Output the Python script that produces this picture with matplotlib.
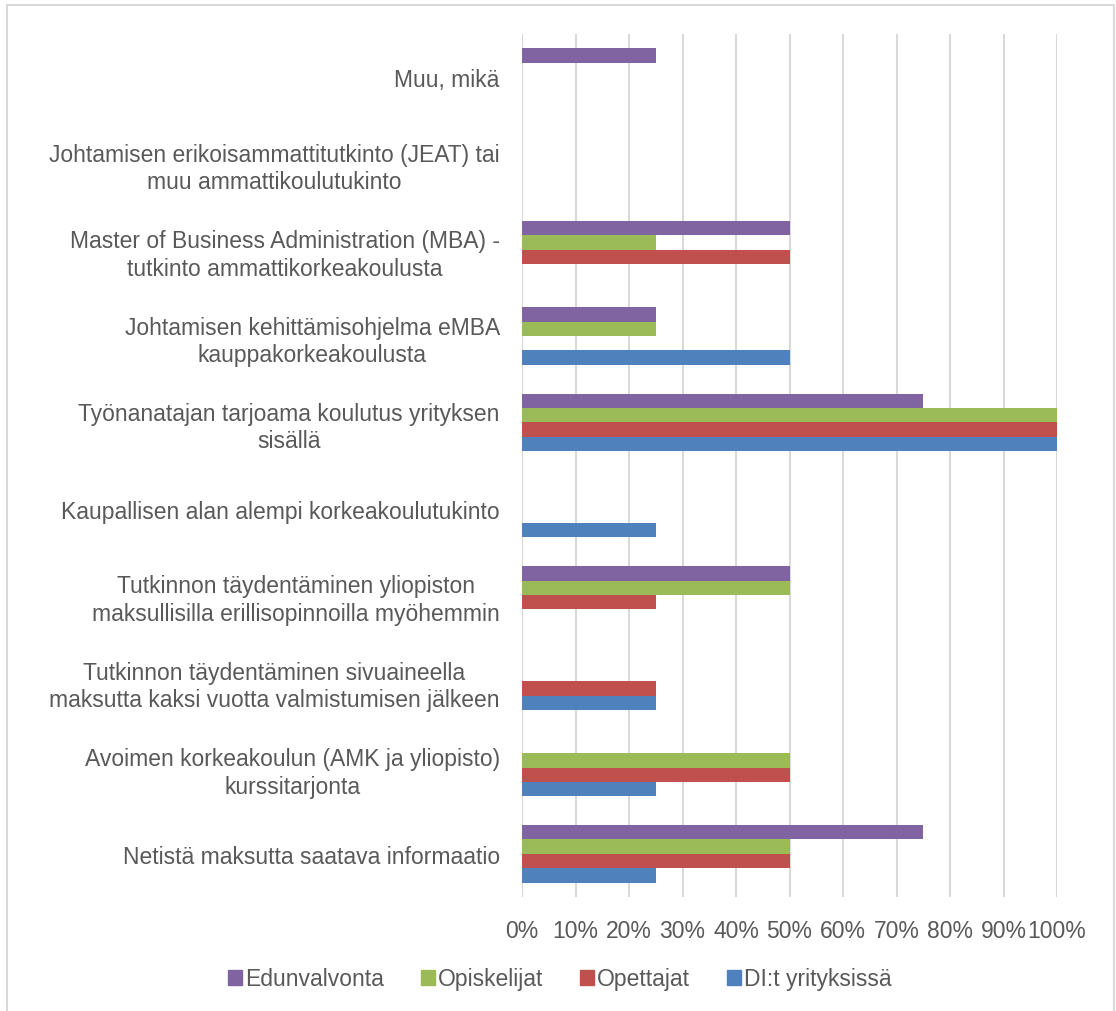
import numpy as np
import matplotlib
matplotlib.use("Agg")
import matplotlib.pyplot as plt
from matplotlib.patches import Rectangle, Patch

plt.rcParams['font.family'] = ['Liberation Sans', 'DejaVu Sans']

# categories from bottom to top
kategoriat = [
    "Netistä maksutta saatava informaatio",
    "Avoimen korkeakoulun (AMK ja yliopisto)\nkurssitarjonta",
    "Tutkinnon täydentäminen sivuaineella\nmaksutta kaksi vuotta valmistumisen jälkeen",
    "Tutkinnon täydentäminen yliopiston\nmaksullisilla erillisopinnoilla myöhemmin",
    "Kaupallisen alan alempi korkeakoulutukinto",
    "Työnanatajan tarjoama koulutus yrityksen\nsisällä",
    "Johtamisen kehittämisohjelma eMBA\nkauppakorkeakoulusta",
    "Master of Business Administration (MBA) -\ntutkinto ammattikorkeakoulusta",
    "Johtamisen erikoisammattitutkinto (JEAT) tai\nmuu ammattikoulutukinto",
    "Muu, mikä",
]

di_yrityksissa = [25, 25, 25, 0, 25, 100, 50, 0, 0, 0]
opettajat = [50, 50, 25, 25, 0, 100, 0, 50, 0, 0]
opiskelijat = [50, 50, 0, 50, 0, 100, 25, 25, 0, 0]
edunvalvonta = [75, 0, 0, 50, 0, 75, 25, 50, 0, 25]

sarjat = ["DI:t yrityksissä", "Opettajat", "Opiskelijat", "Edunvalvonta"]
arvot = [di_yrityksissa, opettajat, opiskelijat, edunvalvonta]
varit = ["#4F81BD", "#C0504D", "#9BBB59", "#8064A2"]
tekstivari = "#595959"
fs = 16.5

fig = plt.figure(figsize=(11.16, 10.12), dpi=100)
ax = fig.add_axes([522 / 1116, 1 - 898 / 1012, 535 / 1116, 863 / 1012])

y = np.arange(len(kategoriat))
h = 1 / 6
for i, (nimi, v, c) in enumerate(zip(sarjat, arvot, varit)):
    ax.barh(y + (i - 1.5) * h, v, height=h, color=c, label=nimi, zorder=3)

ax.set_xlim(0, 100)
ax.set_ylim(-0.5, len(kategoriat) - 0.5)
ax.set_xticks(np.arange(0, 101, 10))
ax.set_xticklabels([f"{t}%" for t in range(0, 101, 10)])
ax.set_yticks(y)
ax.set_yticklabels(kategoriat, multialignment='center', linespacing=1.25)
ax.tick_params(axis='both', length=0, labelsize=fs, labelcolor=tekstivari)
ax.tick_params(axis='y', pad=16)
ax.tick_params(axis='x', pad=16)
ax.grid(axis='x', color="#D9D9D9", lw=1.5, zorder=0)
for s in ax.spines.values():
    s.set_visible(False)

kasittely = [Patch(color=c) for c in varit[::-1]]
fig.legend(kasittely, sarjat[::-1], loc='center', bbox_to_anchor=(560 / 1116, 1 - 980 / 1012),
           ncol=4, frameon=False, fontsize=fs, labelcolor=tekstivari,
           handlelength=0.6, handleheight=0.6, handletextpad=0.15, columnspacing=1.6)

fig.patches.append(Rectangle((7 / 1116, -0.01), 1107 / 1116, 1 - 6 / 1012 + 0.01,
                             transform=fig.transFigure, fill=False,
                             edgecolor="#D9D9D9", lw=1.5))

fig.savefig("out.png", dpi=100)
